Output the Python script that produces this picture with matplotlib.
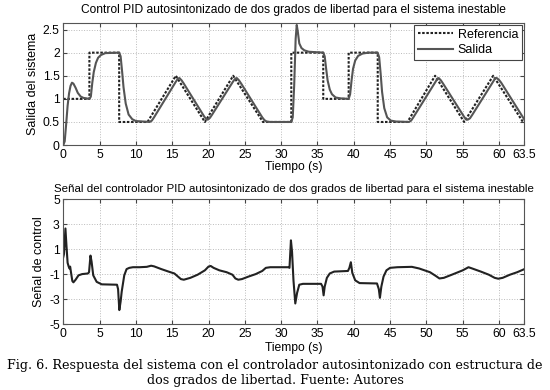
import matplotlib
matplotlib.use("Agg")
import matplotlib.pyplot as plt

plt.rcParams['font.family'] = ['Liberation Sans', 'DejaVu Sans']

# Reference signal breakpoints
ref_t = [0, 3.6, 3.6, 7.7, 7.7, 11.6, 15.5, 19.5, 23.4, 27.5, 31.4, 31.4, 35.8, 35.8,
         39.3, 39.3, 43.3, 43.3, 47.4, 51.2, 55.2, 59.2, 63.3, 63.5]
ref_y = [1, 1, 2, 2, 0.5, 0.5, 1.5, 0.5, 1.5, 0.5, 0.5, 2, 2, 1,
         1, 2, 2, 0.5, 0.5, 1.5, 0.5, 1.5, 0.5, 0.5]

# System output
out_t = [0.0, 0.2, 0.4, 0.6, 0.8, 1.0, 1.2, 1.4, 1.7, 2.0, 2.4, 2.8, 3.6, 3.8, 4.0, 4.2,
         4.5, 4.8, 5.2, 5.8, 7.7, 7.9, 8.1, 8.3, 8.6, 9.0, 9.5, 10.0, 11.9, 12.2, 12.5,
         15.5, 15.8, 16.0, 16.3, 16.6, 19.4, 19.7, 19.9, 20.2, 20.5, 23.4, 23.7, 23.9,
         24.2, 24.5, 27.4, 27.7, 28.0, 28.5, 31.4, 31.6, 31.8, 32.0, 32.15, 32.3, 32.5,
         32.8, 33.2, 33.8, 35.8, 36.0, 36.2, 36.4, 36.7, 37.0, 37.5, 38.2, 39.3, 39.5,
         39.7, 39.9, 40.2, 40.6, 41.2, 42.0, 43.3, 43.5, 43.7, 43.9, 44.2, 44.6, 45.1,
         45.8, 47.6, 47.9, 48.2, 51.3, 51.5, 51.7, 52.0, 52.3, 55.2, 55.5, 55.7, 56.0,
         56.3, 59.3, 59.5, 59.7, 60.0, 60.3, 63.5]
out_y = [0.00, 0.08, 0.45, 0.85, 1.12, 1.28, 1.35, 1.33, 1.24, 1.13, 1.05, 1.02, 1.00, 1.05,
         1.35, 1.58, 1.78, 1.89, 1.95, 1.99, 2.00, 1.92, 1.60, 1.25, 0.90, 0.66, 0.56, 0.52,
         0.50, 0.53, 0.60, 1.37, 1.44, 1.45, 1.40, 1.33, 0.62, 0.56, 0.55, 0.59, 0.66,
         1.38, 1.44, 1.45, 1.40, 1.33, 0.60, 0.54, 0.51, 0.50, 0.50, 0.60, 1.30, 2.30,
         2.60, 2.45, 2.20, 2.10, 2.05, 2.02, 2.00, 1.92, 1.65, 1.40, 1.20, 1.10, 1.03,
         1.01, 1.00, 1.10, 1.40, 1.65, 1.83, 1.93, 1.98, 2.00, 2.00, 1.90, 1.55, 1.15,
         0.80, 0.60, 0.53, 0.51, 0.50, 0.53, 0.60, 1.38, 1.44, 1.45, 1.40, 1.33, 0.61,
         0.55, 0.55, 0.58, 0.65, 1.40, 1.45, 1.45, 1.41, 1.35, 0.55]

# Control signal
u_t = [0.0, 0.1, 0.3, 0.45, 0.6, 0.75, 0.85, 0.95, 1.05, 1.25, 1.4, 1.7, 2.1, 2.6, 3.4,
       3.55, 3.75, 3.9, 4.13, 4.6, 5.3, 7.4, 7.55, 7.72, 7.9, 8.05, 8.4, 8.72, 9.1, 9.6,
       10.5, 11.5, 12.1, 12.5, 13.5, 14.5, 15.3, 15.8, 16.2, 16.6, 17.5, 18.5, 19.5, 20.0,
       20.3, 20.7, 21.5, 22.5, 23.3, 23.7, 24.1, 24.6, 25.5, 26.5, 27.4, 27.9, 28.5, 31.0,
       31.15, 31.35, 31.5, 31.7, 31.95, 32.2, 32.5, 33.0, 35.5, 35.7, 35.85, 36.0, 36.3,
       36.7, 37.3, 39.2, 39.4, 39.6, 39.8, 40.2, 40.8, 43.2, 43.45, 43.6, 43.8, 44.1,
       44.5, 45.0, 46.0, 48.0, 49.0, 50.5, 51.3, 51.8, 52.4, 53.5, 55.0, 55.8, 56.3,
       57.5, 58.6, 59.4, 59.9, 60.5, 61.5, 62.5, 63.5]
u_y = [0.35, 0.6, 2.65, 1.2, -0.1, -0.4, -0.55, -0.4, -0.8, -1.55, -1.66, -1.45, -1.1,
       -1.0, -0.95, -0.85, 0.48, 0.0, -1.1, -1.62, -1.82, -1.85, -2.2, -3.88, -3.2, -2.4,
       -1.1, -0.6, -0.5, -0.45, -0.45, -0.42, -0.33, -0.38, -0.6, -0.8, -0.95, -1.2,
       -1.4, -1.45, -1.3, -1.05, -0.7, -0.4, -0.35, -0.5, -0.7, -0.85, -1.05, -1.35,
       -1.45, -1.4, -1.2, -1.0, -0.75, -0.5, -0.45, -0.45, -0.5, 1.7, 0.8, -1.5, -3.35,
       -2.5, -1.85, -1.78, -1.78, -2.0, -2.7, -2.0, -1.3, -0.95, -0.8, -0.75, -0.5, -0.05,
       -0.9, -1.5, -1.72, -1.75, -2.2, -2.9, -2.0, -1.2, -0.7, -0.5, -0.45, -0.42, -0.55,
       -0.85, -1.15, -1.35, -1.3, -1.05, -0.7, -0.45, -0.55, -0.8, -1.05, -1.3, -1.37,
       -1.3, -1.05, -0.85, -0.6]

xticks = [0, 5, 10, 15, 20, 25, 30, 35, 40, 45, 50, 55, 60, 63.5]
xticklabels = ['0', '5', '10', '15', '20', '25', '30', '35', '40', '45', '50', '55', '60', '63.5']
yticks_top = [0, 0.5, 1, 1.5, 2, 2.5]
yticklabels_top = ['0', '0.5', '1', '1.5', '2', '2.5']
yticks_bot = [-5, -3, -1, 1, 3, 5]
yticklabels_bot = ['-5', '-3', '-1', '1', '3', '5']

fig = plt.figure(figsize=(5.5, 3.9), dpi=100)
ax1 = fig.add_axes([0.115, 0.628, 0.8385, 0.314])
ax2 = fig.add_axes([0.115, 0.169, 0.8385, 0.3205])

fs = 8.7

def style(ax):
    ax.grid(True, linestyle=':', color='#bbbbbb', linewidth=0.7)
    ax.tick_params(direction='in', top=True, right=True, labelsize=fs, length=3,
                   color='#444444', pad=2.5)
    for s in ax.spines.values():
        s.set_color('#555555')
        s.set_linewidth(0.8)
    ax.set_xlim(0, 63.5)
    ax.set_xticks(xticks)
    ax.set_xticklabels(xticklabels)

ax1.plot(ref_t, ref_y, color='#222222', linestyle=(0, (1.2, 0.8)), linewidth=1.5, label='Referencia')
ax1.plot(out_t, out_y, color='#555555', linewidth=1.5, label='Salida')
style(ax1)
ax1.set_ylim(0, 2.65)
ax1.set_yticks(yticks_top)
ax1.set_yticklabels(yticklabels_top)
ax1.set_title('Control PID autosintonizado de dos grados de libertad para el sistema inestable',
              fontsize=8.65, pad=7)
ax1.set_ylabel('Salida del sistema', fontsize=9, labelpad=3)
ax1.set_xlabel('Tiempo (s)', fontsize=fs, labelpad=0)
leg = ax1.legend(loc='upper right', fontsize=9, fancybox=False, framealpha=1,
                 edgecolor='#444444', borderpad=0.3, labelspacing=0.25, handlelength=2.8,
                 handletextpad=0.4, borderaxespad=0.2)
leg.get_frame().set_linewidth(0.8)

ax2.plot(u_t, u_y, color='#222222', linewidth=1.5)
style(ax2)
ax2.set_ylim(-5, 5)
ax2.set_yticks(yticks_bot)
ax2.set_yticklabels(yticklabels_bot)
ax2.set_title('Señal del controlador PID autosintonizado de dos grados de libertad para el sistema inestable',
              fontsize=8.25, pad=5)
ax2.set_ylabel('Señal de control', fontsize=9, labelpad=3)
ax2.set_xlabel('Tiempo (s)', fontsize=fs, labelpad=1.5)

fig.text(0.5, 0.064, 'Fig. 6. Respuesta del sistema con el controlador autosintonizado con estructura de',
         ha='center', va='center', fontsize=9.15, family=['DejaVu Serif'])
fig.text(0.5, 0.025, 'dos grados de libertad. Fuente: Autores',
         ha='center', va='center', fontsize=9.15, family=['DejaVu Serif'])

fig.savefig('out.png', dpi=100)
